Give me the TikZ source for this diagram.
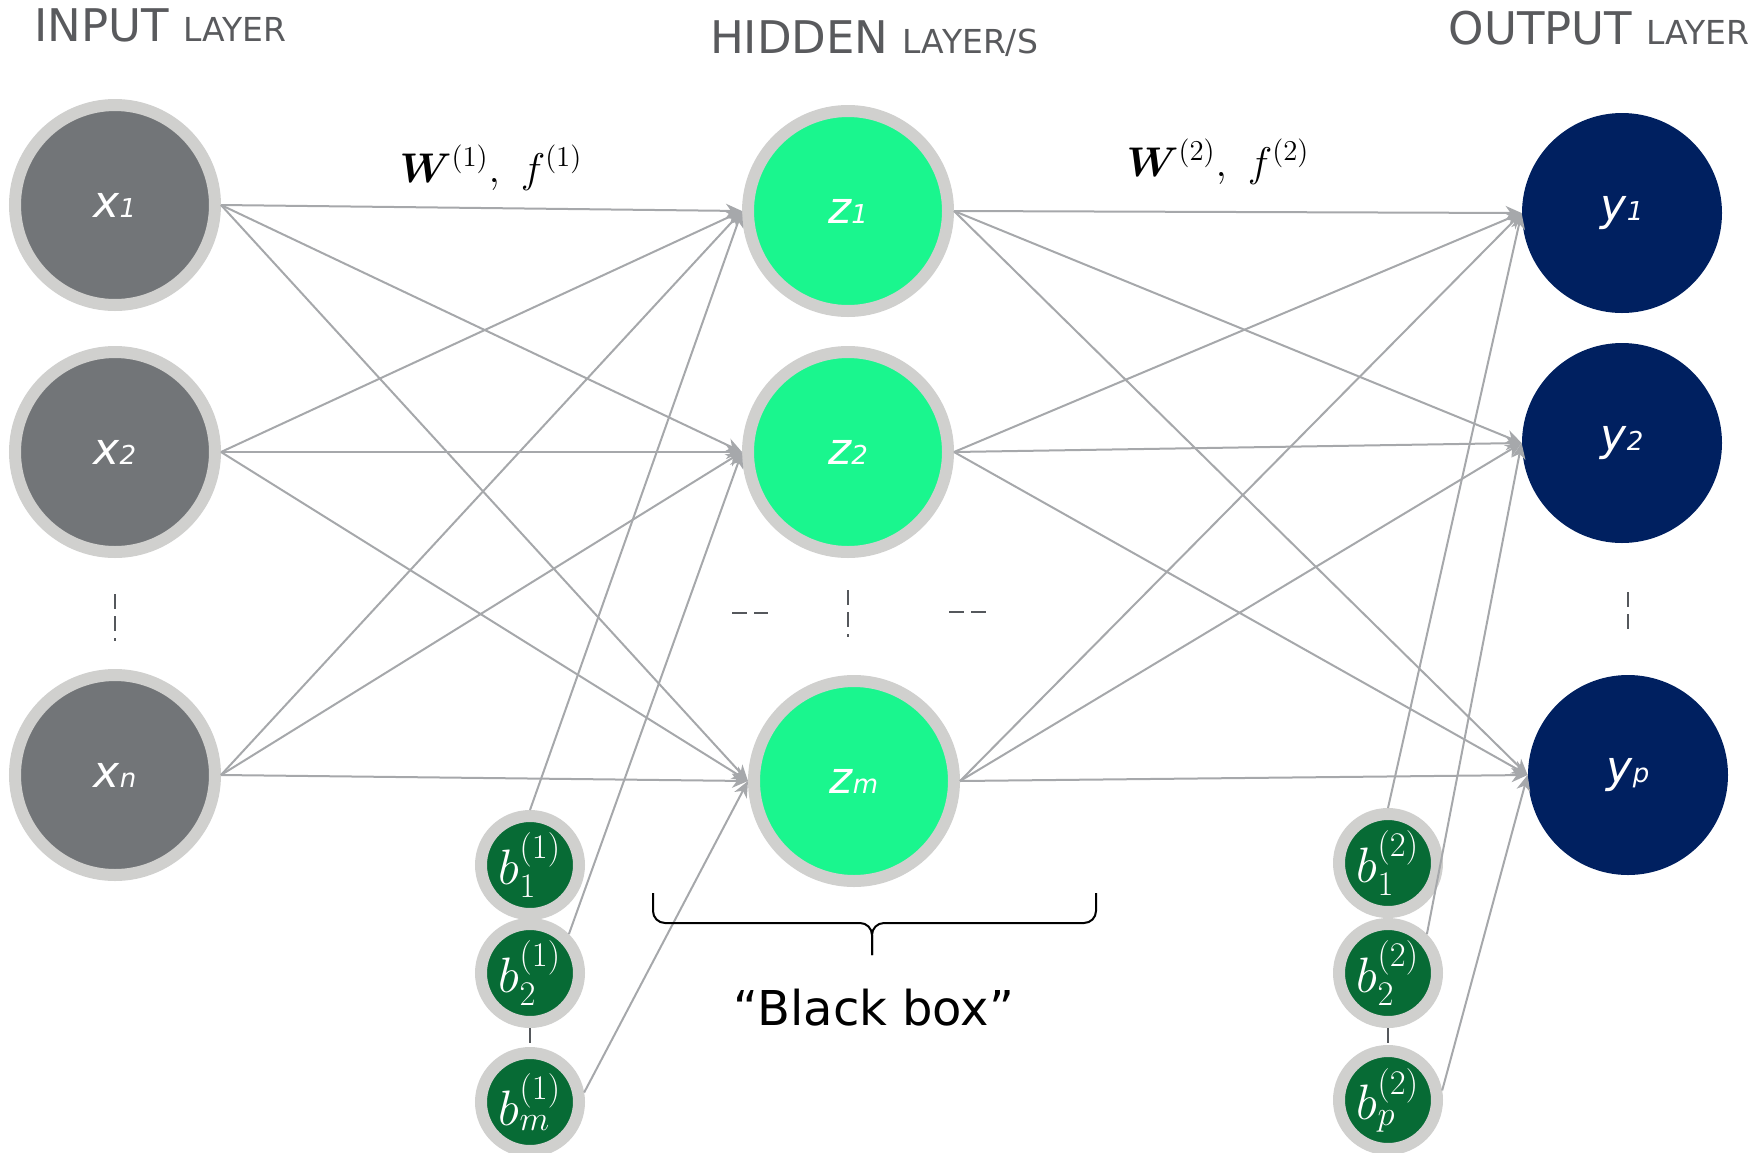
\documentclass[tikz,border=0pt]{standalone}
\usepackage{amsmath,amssymb}
\usepackage{bm}
\usepackage{fontspec}
\setmainfont{DejaVu Sans}
\usepackage{tikz}
\usetikzlibrary{arrows.meta,positioning,calc}
\usepackage{xcolor}
\definecolor{ringgrey}{RGB}{208,208,206}
\definecolor{inputgrey}{RGB}{114,117,120}
\definecolor{hiddengreen}{RGB}{26,246,142}
\definecolor{outputnavy}{RGB}{0,32,96}
\definecolor{biasgreen}{RGB}{7,107,53}
\definecolor{edgegrey}{RGB}{166,168,171}
\definecolor{titlegrey}{RGB}{89,90,93}
\definecolor{dashgrey}{RGB}{85,88,92}
\newcommand{\nlab}[2]{\raisebox{-2.5pt}{\textit{#1{\fontsize{13pt}{13pt}\selectfont #2}}}}
\newcommand{\smc}[1]{{\fontsize{16.5pt}{16.5pt}\selectfont #1}}

\begin{document}
\begin{tikzpicture}[x=0.5pt, y=-0.5pt,
    inp/.style={circle, draw=ringgrey, line width=6pt, fill=inputgrey, minimum size=100pt,
                inner sep=0pt, text=white, font=\fontsize{22pt}{22pt}\selectfont},
    hid/.style={inp, fill=hiddengreen},
    outp/.style={circle, fill=outputnavy, minimum size=100pt, inner sep=0pt, text=white,
                 font=\fontsize{22pt}{22pt}\selectfont},
    bias/.style={circle, draw=ringgrey, line width=6pt, fill=biasgreen, minimum size=49pt,
                 inner sep=0pt, text=white, font=\fontsize{24pt}{24pt}\selectfont},
    wline/.style={draw=edgegrey, line width=1pt, -{Stealth[length=8pt,width=7pt,inset=2.5pt]}},
    dots/.style={draw=dashgrey, line width=1pt, dash pattern=on 7.5pt off 3.5pt},
    ttl/.style={text=titlegrey, font=\fontsize{22.5pt}{22.5pt}\selectfont, inner sep=0pt},
    wlbl/.style={font=\fontsize{22pt}{22pt}\selectfont, anchor=base, inner sep=0pt}]
\useasboundingbox (0,0) rectangle (1757,1152);

% titles
\node[ttl, anchor=base west] (tin) at (34,41) {INPUT \smc{LAYER}};
\node[ttl, anchor=base] (thid) at (874,53) {HIDDEN \smc{LAYER/S}};
\node[ttl, anchor=base east] (tout) at (1750,44) {OUTPUT \smc{LAYER}};

% input layer
\node[inp] (x1) at (115,205) {\nlab{x}{1}};
\node[inp] (x2) at (115,452) {\nlab{x}{2}};
\node[inp] (xn) at (115,775) {\nlab{x}{n}};

% hidden layer
\node[hid] (z1) at (848,211) {\nlab{z}{1}};
\node[hid] (z2) at (848,452) {\nlab{z}{2}};
\node[hid] (zm) at (854,781) {\nlab{z}{m}};

% output layer
\node[outp] (y1) at (1622,213) {\nlab{y}{1}};
\node[outp] (y2) at (1622,443) {\nlab{y}{2}};
\node[outp] (yp) at (1628,775) {\nlab{y}{p}};

% biases
\node[bias] (b11) at (530,865) {$b_1^{(1)}$};
\node[bias] (b21) at (530,973) {$b_2^{(1)}$};
\node[bias] (bm1) at (530,1102) {$b_m^{(1)}$};
\node[bias] (b12) at (1388,863) {$b_1^{(2)}$};
\node[bias] (b22) at (1388,973) {$b_2^{(2)}$};
\node[bias] (bp2) at (1388,1100) {$b_p^{(2)}$};

% weights
\foreach \s in {x1,x2,xn}
  \foreach \t in {z1,z2,zm}
    \draw[wline] (\s.east) -- (\t.west);
\foreach \s in {z1,z2,zm}
  \foreach \t in {y1,y2,yp}
    \draw[wline] (\s.east) -- (\t.west);
\draw[wline] (b11.north) -- (z1.west);
\draw[wline] (b21.45) -- (z2.west);
\draw[wline] (bm1.10) -- (zm.west);
\draw[wline] (b12.north) -- (y1.west);
\draw[wline] (b22.45) -- (y2.west);
\draw[wline] (bp2.10) -- (yp.west);

\node[wlbl] (w1) at (491,182) {$\bm{W}^{(1)},\ f^{(1)}$};
\node[wlbl] (w2) at (1218,176) {$\bm{W}^{(2)},\ f^{(2)}$};

% ellipses
\draw[dots] (115,594) -- (115,641);
\draw[dots] (848,590) -- (848,637);
\draw[dots] (732,613) -- (768,613);
\draw[dots] (949,612) -- (986,612);
\draw[dots] (1628,592) -- (1628,636);
\draw[dots] (b21.south) -- (bm1.north);
\draw[dots] (b22.south) -- (bp2.north);

% black box
\draw[line width=1pt, rounded corners=6pt] (653,893) |- (872,923) -- (872,955);
\draw[line width=1pt, rounded corners=6pt] (1096,893) |- (872,923) -- (872,955);
\node[font=\fontsize{24pt}{24pt}\selectfont, anchor=base, inner sep=0pt] (bb) at (874,1025) {“Black box”};
\end{tikzpicture}
\end{document}
